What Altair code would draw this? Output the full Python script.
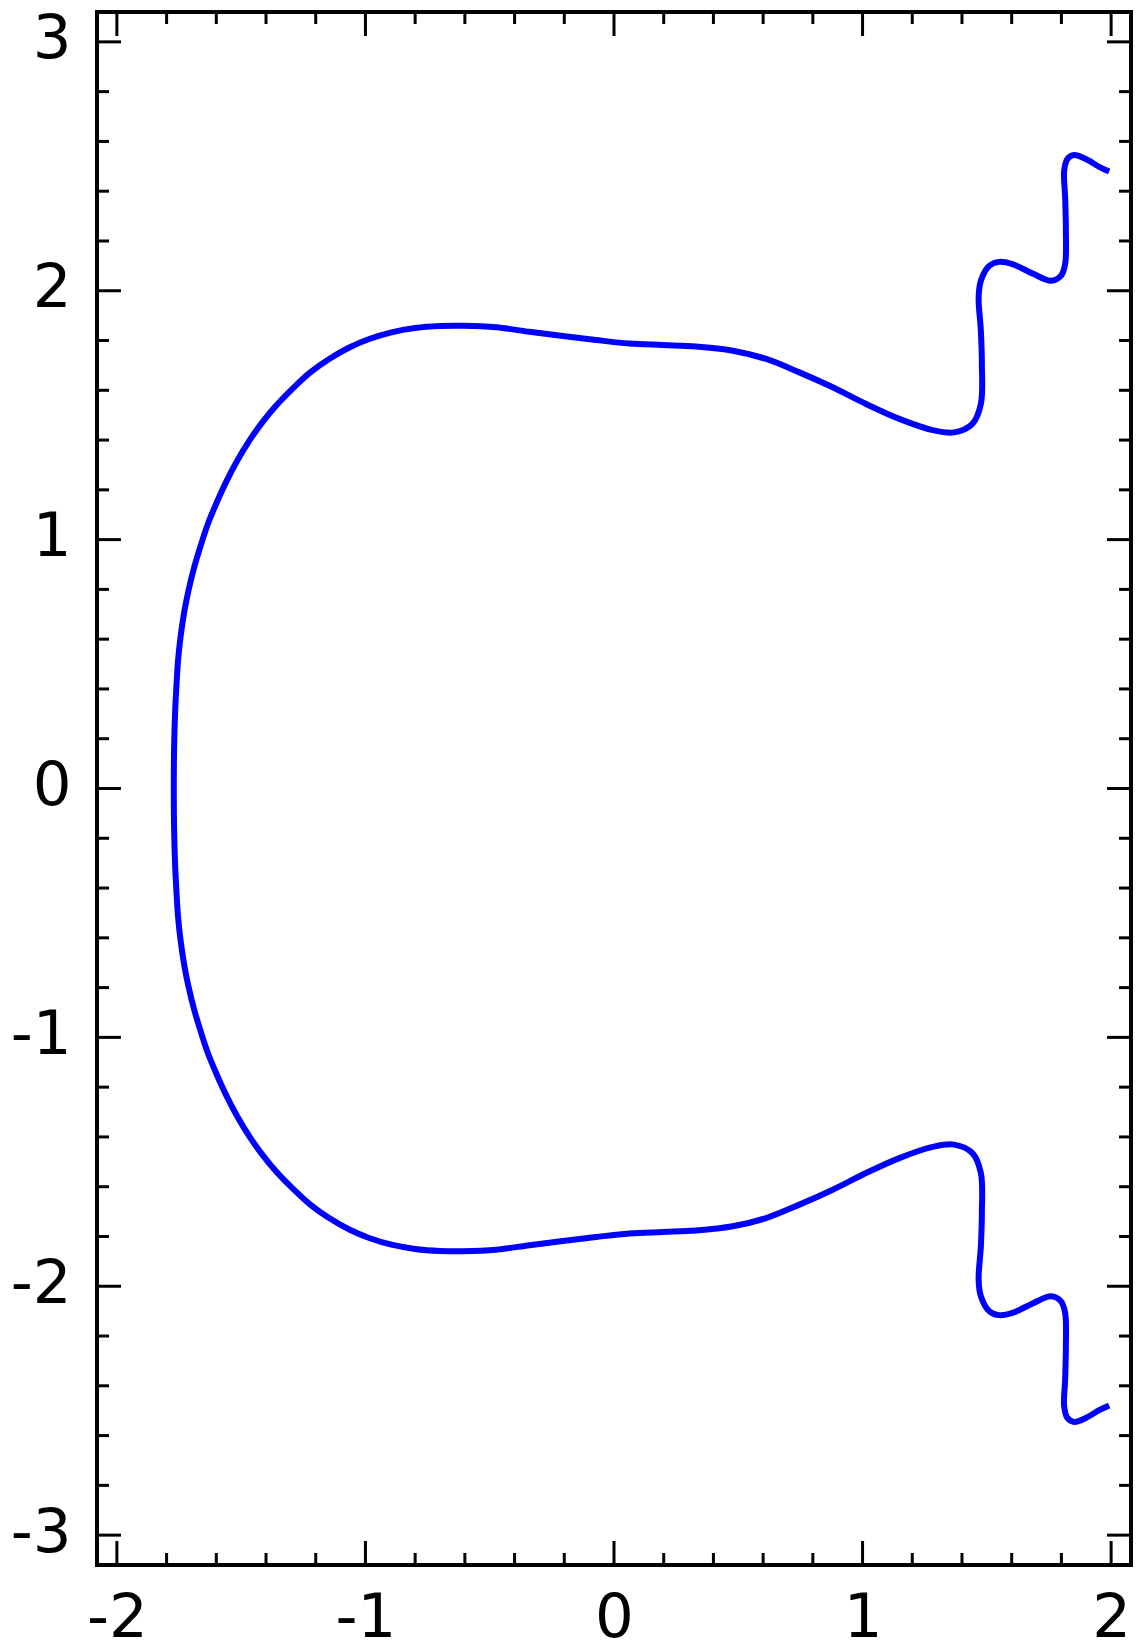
import altair as alt
import pandas as pd

# curve, traced from top-right end, round the left side, to bottom-right end
curve_x = [1.992, 1.952, 1.898, 1.851, 1.824, 1.811, 1.815, 1.818, 1.815, 1.798,
           1.758, 1.684, 1.603, 1.550, 1.510, 1.476, 1.467, 1.476, 1.480, 1.476,
           1.442, 1.369, 1.282, 1.148, 1.014, 0.880, 0.746, 0.612, 0.478, 0.330,
           0.196, 0.062, -0.072, -0.206, -0.340, -0.474, -0.608, -0.700, -0.800, -0.895,
           -0.985, -1.065, -1.146, -1.222, -1.295, -1.360, -1.415, -1.467, -1.516, -1.558,
           -1.601, -1.634, -1.665, -1.689, -1.712, -1.728, -1.744, -1.754, -1.760, -1.766,
           -1.770, -1.771,
           -1.770, -1.766, -1.760, -1.754, -1.744, -1.728, -1.712, -1.689, -1.665, -1.634,
           -1.601, -1.558, -1.516, -1.467, -1.415, -1.360, -1.295, -1.222, -1.146, -1.065,
           -0.985, -0.895, -0.800, -0.700, -0.608, -0.474, -0.340, -0.206, -0.072, 0.062,
           0.196, 0.330, 0.478, 0.612, 0.746, 0.880, 1.014, 1.148, 1.282, 1.369,
           1.442, 1.476, 1.480, 1.476, 1.467, 1.476, 1.510, 1.550, 1.603, 1.684,
           1.758, 1.798, 1.815, 1.818, 1.815, 1.811, 1.824, 1.851, 1.898, 1.952,
           1.992]
curve_y = [2.479, 2.498, 2.529, 2.545, 2.529, 2.482, 2.375, 2.241, 2.107, 2.060,
           2.040, 2.069, 2.107, 2.116, 2.100, 2.040, 1.973, 1.839, 1.706, 1.545,
           1.465, 1.431, 1.440, 1.485, 1.545, 1.612, 1.672, 1.726, 1.759, 1.776,
           1.782, 1.788, 1.802, 1.818, 1.835, 1.853, 1.859, 1.858, 1.850, 1.833,
           1.806, 1.772, 1.726, 1.672, 1.605, 1.538, 1.471, 1.398, 1.317, 1.237,
           1.143, 1.063, 0.969, 0.889, 0.795, 0.715, 0.608, 0.514, 0.420, 0.300,
           0.150, 0.000,
           -0.150, -0.300, -0.420, -0.514, -0.608, -0.715, -0.795, -0.889, -0.969, -1.063,
           -1.143, -1.237, -1.317, -1.398, -1.471, -1.538, -1.605, -1.672, -1.726, -1.772,
           -1.806, -1.833, -1.850, -1.858, -1.859, -1.853, -1.835, -1.818, -1.802, -1.788,
           -1.782, -1.776, -1.759, -1.726, -1.672, -1.612, -1.545, -1.485, -1.440, -1.431,
           -1.465, -1.545, -1.706, -1.839, -1.973, -2.040, -2.100, -2.116, -2.107, -2.069,
           -2.040, -2.060, -2.107, -2.241, -2.375, -2.482, -2.529, -2.545, -2.529, -2.498,
           -2.479]

x_major = [-2, -1, 0, 1, 2]
y_major = [-3, -2, -1, 0, 1, 2, 3]
x_minor = [-1.8, -1.6, -1.4, -1.2, -0.8, -0.6, -0.4, -0.2,
           0.2, 0.4, 0.6, 0.8, 1.2, 1.4, 1.6, 1.8]
y_minor = [-2.8, -2.6, -2.4, -2.2, -1.8, -1.6, -1.4, -1.2, -0.8, -0.6, -0.4, -0.2,
           0.2, 0.4, 0.6, 0.8, 1.2, 1.4, 1.6, 1.8, 2.2, 2.4, 2.6, 2.8]

W, H = 1034, 1553
MAJ, MIN = 24, 12

curve = pd.DataFrame({"x": curve_x, "y": curve_y, "i": list(range(len(curve_x)))})

lab = "datum.value < 0 ? '-' + abs(datum.value) : '' + datum.value"
xscale = alt.Scale(domain=[-2.08, 2.08], nice=False, zero=False)
yscale = alt.Scale(domain=[-3.12, 3.12], nice=False, zero=False)
xaxis = alt.Axis(values=x_major, title=None, labelExpr=lab, labelPadding=23)
yaxis = alt.Axis(values=y_major, title=None, labelExpr=lab, labelPadding=26, labelOffset=-2)

line = alt.Chart(curve).mark_line(color="#0000ff", strokeWidth=6, interpolate="catmull-rom").encode(
    x=alt.X("x:Q", scale=xscale, axis=xaxis),
    y=alt.Y("y:Q", scale=yscale, axis=yaxis),
    order="i:Q",
)

def xticks(vals, length):
    d = pd.DataFrame({"x": vals})
    b = alt.Chart(d).mark_rule(color="black", strokeWidth=3)
    bottom = b.encode(x=alt.X("x:Q", scale=xscale, axis=xaxis), y=alt.value(H), y2=alt.value(H - length))
    top = b.encode(x=alt.X("x:Q", scale=xscale, axis=xaxis), y=alt.value(0), y2=alt.value(length))
    return [bottom, top]

def yticks(vals, length):
    d = pd.DataFrame({"y": vals})
    b = alt.Chart(d).mark_rule(color="black", strokeWidth=3)
    left = b.encode(y=alt.Y("y:Q", scale=yscale, axis=yaxis), x=alt.value(0), x2=alt.value(length))
    right = b.encode(y=alt.Y("y:Q", scale=yscale, axis=yaxis), x=alt.value(W), x2=alt.value(W - length))
    return [left, right]

layers = [line] + xticks(x_major, MAJ) + xticks(x_minor, MIN) + yticks(y_major, MAJ) + yticks(y_minor, MIN)

chart = alt.layer(*layers).properties(
    width=W, height=H,
    padding={"left": 97, "top": 12, "right": 6, "bottom": 81},
    autosize=alt.AutoSizeParams(type="none"),
    background="white",
).configure_view(
    stroke="black", strokeWidth=4
).configure_axis(
    grid=False, ticks=False, tickSize=0, domain=False,
    labelFont="DejaVu Sans", labelFontSize=61, labelColor="black",
    labelOverlap=False, labelFlush=False, labelBound=False,
)

chart.save("out.html", embed_options={"renderer": "svg", "actions": False})
